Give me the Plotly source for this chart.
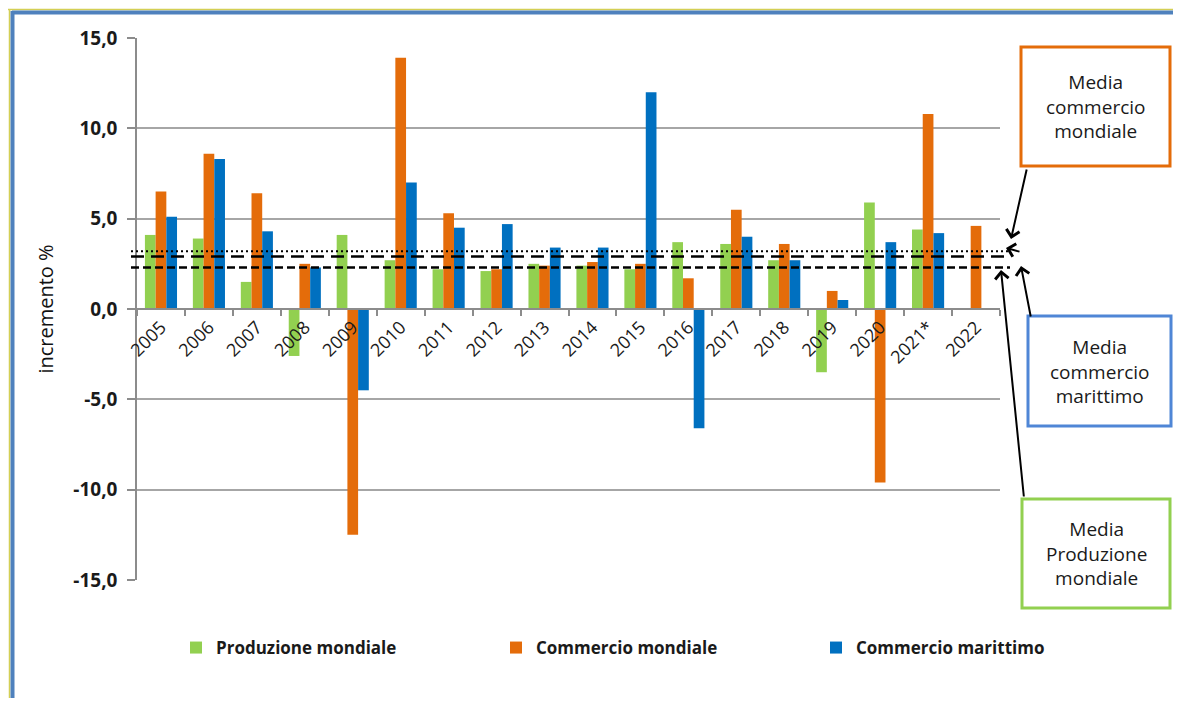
import plotly.graph_objects as go

# ---- data ----
years = ["2005", "2006", "2007", "2008", "2009", "2010", "2011", "2012", "2013",
         "2014", "2015", "2016", "2017", "2018", "2019", "2020", "2021*", "2022"]
produzione_mondiale = [4.1, 3.9, 1.5, -2.6, 4.1, 2.7, 2.2, 2.1, 2.5,
                       2.4, 2.2, 3.7, 3.6, 2.7, -3.5, 5.9, 4.4, None]
commercio_mondiale = [6.5, 8.6, 6.4, 2.5, -12.5, 13.9, 5.3, 2.2, 2.4,
                      2.6, 2.5, 1.7, 5.5, 3.6, 1.0, -9.6, 10.8, 4.6]
commercio_marittimo = [5.1, 8.3, 4.3, 2.3, -4.5, 7.0, 4.5, 4.7, 3.4,
                       3.4, 12.0, -6.6, 4.0, 2.7, 0.5, 3.7, 4.2, None]
# average lines: commercio mondiale, commercio marittimo, produzione mondiale
media_values = [3.2, 2.9, 2.3]
media_dash = ["2px,3px", "13px,7px", "8px,4px"]
media_width = [2, 2.5, 2.5]
y_ticks = [-15, -10, -5, 0, 5, 10, 15]
y_tick_text = ["-15,0", "-10,0", "-5,0", "0,0", "5,0", "10,0", "15,0"]

series_names = ["Produzione mondiale", "Commercio mondiale", "Commercio marittimo"]
series_colors = ["#92D050", "#E46C0A", "#0070C0"]
series_values = [produzione_mondiale, commercio_mondiale, commercio_marittimo]
legend_ids = ["legend", "legend2", "legend3"]
legend_x_px = [176, 496, 816]

FONT = "Open Sans"
OFF = 8  # page body margin
W, H = 1181 - 2 * OFF, 706 - 2 * OFF
L, T = 137 - OFF, 38 - OFF
PW = 1000 - 137
PH = 580 - 38
R, B = W - L - PW, H - T - PH


def px(xp):
    """reference-screenshot pixel x -> paper coordinate"""
    return (xp - OFF - L) / PW


def py(yp):
    """reference-screenshot pixel y -> paper coordinate"""
    return (T + PH - (yp - OFF)) / PH


fig = go.Figure()
for name, color, vals, lg in zip(series_names, series_colors, series_values, legend_ids):
    fig.add_trace(go.Bar(x=years, y=vals, name=name, marker_color=color,
                         marker_line_width=0, legend=lg))

shapes = []
for v, d, w in zip(media_values, media_dash, media_width):
    shapes.append(dict(type="line", xref="paper", yref="y", x0=px(131), x1=px(1010),
                       y0=v, y1=v, line=dict(color="black", width=w, dash=d)))

# outer frame
shapes += [
    dict(type="line", xref="paper", yref="paper", x0=px(8), x1=px(1190), y0=py(9.5), y1=py(9.5),
         line=dict(color="#D4CF55", width=1.5)),
    dict(type="line", xref="paper", yref="paper", x0=px(12), x1=px(1190), y0=py(12.5), y1=py(12.5),
         line=dict(color="#4F81BD", width=4)),
    dict(type="line", xref="paper", yref="paper", x0=px(9.5), x1=px(9.5), y0=py(9), y1=py(712),
         line=dict(color="#D4CF55", width=1.5)),
    dict(type="line", xref="paper", yref="paper", x0=px(12.5), x1=px(12.5), y0=py(11), y1=py(712),
         line=dict(color="#4F81BD", width=4)),
]

# annotation boxes
boxes = [
    ((1021, 47, 1170, 166), "#E46C0A", "Media<br>commercio<br>mondiale"),
    ((1028, 316, 1171, 426), "#4F86D6", "Media<br>commercio<br>marittimo"),
    ((1022, 499, 1170, 608), "#92D050", "Media<br>Produzione<br>mondiale"),
]
annotations = []
for (x0, y0, x1, y1), col, txt in boxes:
    shapes.append(dict(type="rect", xref="paper", yref="paper",
                       x0=px(x0), x1=px(x1), y0=py(y0), y1=py(y1),
                       line=dict(color=col, width=3), fillcolor="white"))
    annotations.append(dict(xref="paper", yref="paper", x=px((x0 + x1) / 2),
                            y=py((y0 + y1) / 2), text=txt, showarrow=False,
                            font=dict(family=FONT, size=19, color="#1a1a1a"),
                            align="center", xanchor="center", yanchor="middle"))

arrows = [
    ((1011, 239), (1027, 168)),
    ((1006, 248), (1021, 252)),
    ((1021, 266), (1031, 318)),
    ((1001, 270), (1024, 498)),
]
for (hx, hy), (tx, ty) in arrows:
    annotations.append(dict(xref="paper", yref="paper", x=px(hx), y=py(hy),
                            ax=tx - hx, ay=ty - hy, text="", showarrow=True,
                            arrowhead=4, arrowsize=1.3, arrowwidth=2,
                            arrowcolor="black"))

legend_common = dict(orientation="h", xanchor="left", y=py(648), yanchor="middle",
                     font=dict(family=FONT, size=17, color="#1a1a1a", weight="bold"),
                     bgcolor="rgba(0,0,0,0)")

fig.update_layout(
    width=W, height=H,
    margin=dict(l=L, r=R, t=T, b=B, autoexpand=False),
    paper_bgcolor="white", plot_bgcolor="white",
    separators=",.",
    barmode="group", bargap=0.33, bargroupgap=0,
    font=dict(family=FONT, color="#1a1a1a"),
    shapes=shapes, annotations=annotations,
    showlegend=True,
    legend=dict(x=px(legend_x_px[0]), **legend_common),
    legend2=dict(x=px(legend_x_px[1]), **legend_common),
    legend3=dict(x=px(legend_x_px[2]), **legend_common),
    xaxis=dict(type="category", anchor="free", position=0.5,
               showline=True, linecolor="#8C8C8C", linewidth=1.5,
               ticks="outside", tickson="boundaries", ticklen=6, tickcolor="#8C8C8C",
               tickwidth=1.5, tickangle=-45, showgrid=False, zeroline=False,
               tickfont=dict(family=FONT, size=18, color="#1a1a1a"),
               range=[-0.5, 17.5]),
    yaxis=dict(range=[-15, 15], tickvals=y_ticks, ticktext=y_tick_text,
               showline=True, linecolor="#8C8C8C", linewidth=1.5,
               ticks="outside", ticklen=8, tickcolor="#8C8C8C", tickwidth=1.5,
               showgrid=True, gridcolor="#A6A6A6", gridwidth=1.5, zeroline=False,
               tickfont=dict(family=FONT, size=19, color="#1a1a1a", weight="bold"),
               ticklabelstandoff=6,
               title=dict(text="incremento %", standoff=14,
                          font=dict(family=FONT, size=20, color="#111111"))),
)

fig.write_html("out.html")
